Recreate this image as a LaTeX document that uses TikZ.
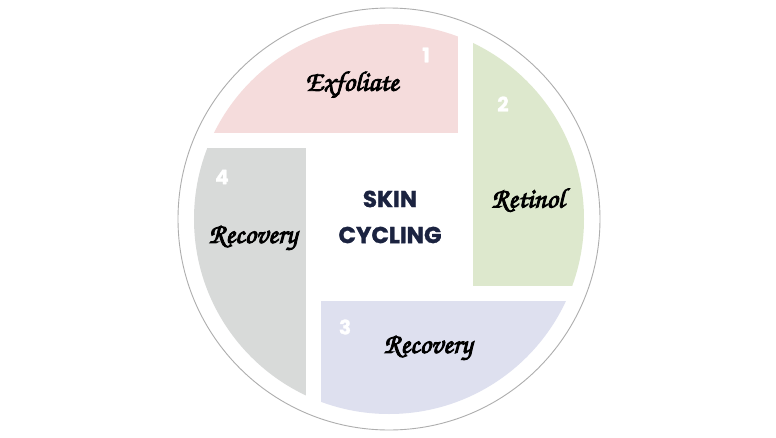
\documentclass[tikz,border=0pt]{standalone}
\usepackage[T1]{fontenc}
\usepackage{fontspec}
\newfontfamily\poppins{Poppins}[BoldFeatures={FakeBold=1.2}]
\newcommand{\handfont}{\usefont{T1}{pzc}{mb}{it}}
\newcommand{\heavyhand}[1]{\special{pdf:literal 2 Tr 0.9 w}#1\special{pdf:literal 0 Tr}}
\definecolor{exfpink}{HTML}{F5DCDC}
\definecolor{retgreen}{HTML}{DDE8CD}
\definecolor{recgray}{HTML}{D8DAD9}
\definecolor{recblue}{HTML}{DEE0EF}
\definecolor{ringgray}{HTML}{AEAEAE}
\definecolor{navy}{HTML}{1B2340}
\tikzset{
	steplabel/.style={font=\handfont\fontsize{28}{32}\selectfont, text=black},
	stepnum/.style={font=\poppins\bfseries\fontsize{20}{24}\selectfont, text=white},
	title/.style={font=\poppins\bfseries\fontsize{23}{27}\selectfont, text=navy, align=center}
}
\begin{document}
\begin{tikzpicture}[x=1pt,y=1pt]
			\useasboundingbox (-389,-218) rectangle (387,219);
			\fill[white] (-389,-218) rectangle (387,219);
			\draw[ringgray, line width=0.9pt] (0,0) circle (211);
			\begin{scope}
				\clip (0,0) circle (195);
				\fill[exfpink] (-200,86) rectangle (69,200);
				\fill[retgreen] (84,-67) rectangle (200,200);
				\fill[recblue] (-68,-200) rectangle (200,-82);
				\fill[recgray] (-200,-200) rectangle (-83,71);
			\end{scope}
			\node[title] (skin) at (1,20) {SKIN};
			\node[title] (cycling) at (1,-16) {CYCLING};
			\node[steplabel] (exfoliate) at (-37,134) {\heavyhand{Exfoliate}};
			\node[steplabel] (retinol) at (139,19) {\heavyhand{Retinol}};
			\node[steplabel] (recoverya) at (39,-129) {\heavyhand{Recovery}};
			\node[steplabel] (recoveryb) at (-136,-19) {\heavyhand{Recovery}};
			\node[stepnum] (one) at (37,164) {1};
			\node[stepnum] (two) at (114,115) {2};
			\node[stepnum] (three) at (-44,-108) {3};
			\node[stepnum] (four) at (-167,42) {4};
		\end{tikzpicture}
\end{document}
